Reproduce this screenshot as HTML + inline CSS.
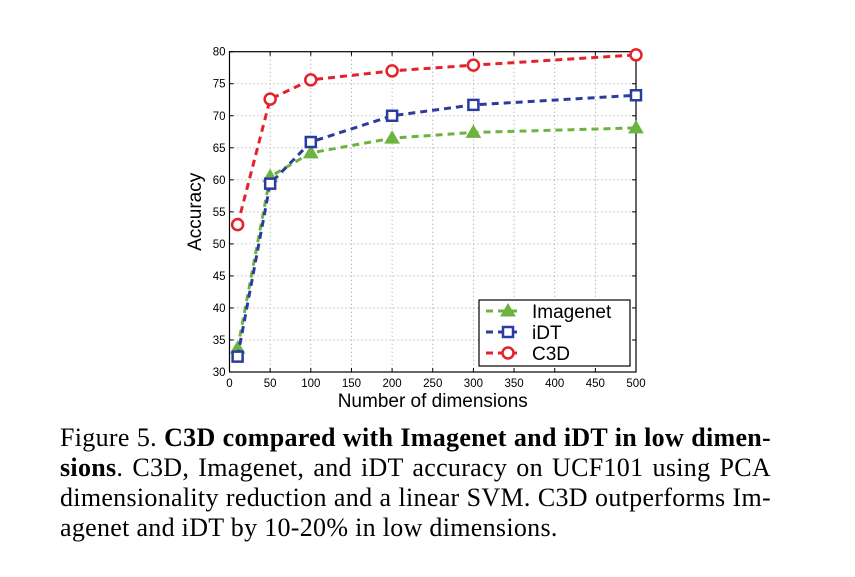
<!DOCTYPE html>
<html><head><meta charset="utf-8"><style>
body{margin:0;background:#fff;width:855px;height:577px;overflow:hidden;position:relative}
svg{position:absolute;left:0;top:0}
.cap{position:absolute;left:60px;width:711px;font-family:"Liberation Serif",serif;font-size:26px;letter-spacing:0.3px;line-height:30px;text-align:justify;text-align-last:justify;white-space:nowrap;color:#000}
.cap.last{text-align-last:left}
</style></head><body>
<svg id="chart" width="855" height="420"></svg>
<div class="cap" style="top:423px">Figure 5. <b>C3D compared with Imagenet and iDT in low dimen-</b></div>
<div class="cap" style="top:453px"><b>sions</b>. C3D, Imagenet, and iDT accuracy on UCF101 using PCA</div>
<div class="cap" style="top:483px">dimensionality reduction and a linear SVM. C3D outperforms Im-</div>
<div class="cap last" style="top:513px">agenet and iDT by 10-20% in low dimensions.</div>
<script>
const dims=[10,50,100,200,300,500];
const imagenet=[33.7,60.5,64.2,66.5,67.4,68.1];
const idt=[32.4,59.4,65.9,70.0,71.7,73.2];
const c3d=[53.0,72.6,75.6,77.0,77.9,79.5];
const xTicks=[0,50,100,150,200,250,300,350,400,450,500];
const yTicks=[30,35,40,45,50,55,60,65,70,75,80];
const L=229.5,R=636,T=51.7,B=372;
const sx=v=>L+(v-0)/500*(R-L);
const sy=v=>B-(v-30)/50*(B-T);
const NS="http://www.w3.org/2000/svg";
const svg=document.getElementById('chart');
function mk(tag,attrs,parent){const e=document.createElementNS(NS,tag);for(const k in attrs)e.setAttribute(k,attrs[k]);(parent||svg).appendChild(e);return e;}
const font='"Liberation Sans",Arial,sans-serif';
xTicks.forEach(t=>{
  const x=sx(t);
  if(t>0&&t<500){const g=mk('line',{x1:x,x2:x,y1:T,y2:B,stroke:'#888','stroke-width':0.8,'stroke-dasharray':'1,3'});
  
  }
  mk('line',{x1:x,x2:x,y1:B,y2:B-4,stroke:'#000'});
  mk('line',{x1:x,x2:x,y1:T,y2:T+4,stroke:'#000'});
  const tx=mk('text',{x:x,y:B+15,'font-size':11.5,'font-family':font,'text-anchor':'middle'});
  tx.textContent=t;
  
  
});
yTicks.forEach(t=>{
  const y=sy(t);
  if(t>30&&t<80){const g=mk('line',{x1:L,x2:R,y1:y,y2:y,stroke:'#888','stroke-width':0.8,'stroke-dasharray':'1,3'});
  
  }
  mk('line',{x1:L,x2:L+4,y1:y,y2:y,stroke:'#000'});
  mk('line',{x1:R,x2:R-4,y1:y,y2:y,stroke:'#000'});
  const tx=mk('text',{x:L-4,y:y+4,'font-size':11.5,'font-family':font,'text-anchor':'end'});
  tx.textContent=t;
  
  
});
const frame=mk('rect',{x:L,y:T,width:R-L,height:B-T,fill:'none',stroke:'#000','stroke-width':1.2});


const xt=mk('text',{x:(L+R)/2,y:407,'font-size':19,'font-family':font,'text-anchor':'middle'});
xt.textContent='Number of dimensions';


const yt=mk('text',{x:0,y:0,'font-size':19,'font-family':font,'text-anchor':'middle',transform:`translate(201,${(T+B)/2}) rotate(-90)`});
yt.textContent='Accuracy';


function marker(kind,x,y,c,p){
  let m;
  if(kind==='tri')m=mk('polygon',{points:`${x},${y-7} ${x-7},${y+5} ${x+7},${y+5}`,fill:c,stroke:c,'stroke-width':1},p);
  else if(kind==='sq')m=mk('rect',{x:x-5,y:y-5,width:10,height:10,fill:'#fff',stroke:c,'stroke-width':2.5},p);
  else m=mk('circle',{cx:x,cy:y,r:5.5,fill:'#fff',stroke:c,'stroke-width':2.5},p);
  return m;
}
const series=[['imagenet',imagenet,'#6cb33f','tri'],['idt',idt,'#2b3c9e','sq'],['c3d',c3d,'#e5222b','circ']];
series.forEach(([name,vals,c,k])=>{
  const g=mk('g',{});
  
  
  const pts=vals.map((v,i)=>sx(dims[i])+','+sy(v)).join(' ');
  mk('polyline',{points:pts,fill:'none',stroke:c,'stroke-width':3,'stroke-dasharray':'7,5'},g);
  vals.forEach((v,i)=>{const m=marker(k,sx(dims[i]),sy(v),c,g);
    
    });
});
const lg=mk('g',{});


mk('rect',{x:479,y:300,width:151,height:66,fill:'#fff',stroke:'#000','stroke-width':1.2},lg);
series.forEach(([name,vals,c,k],i)=>{
  const y=311+i*21;
  const e=mk('g',{},lg);
  
  
  mk('line',{x1:486,x2:522,y1:y,y2:y,stroke:c,'stroke-width':3,'stroke-dasharray':'7,5'},e);
  marker(k,508,y,c,e);
  const t=mk('text',{x:532,y:y+7,'font-size':19,'font-family':font},e);
  t.textContent=['Imagenet','iDT','C3D'][i];
});
</script>
</body></html>
